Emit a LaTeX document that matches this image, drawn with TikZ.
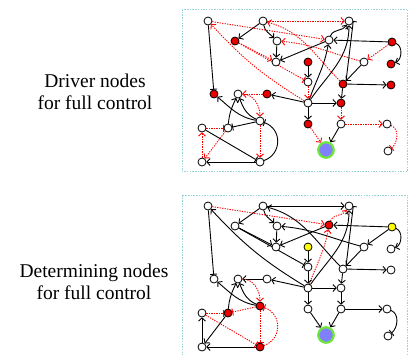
\documentclass[tikz,border=0pt]{standalone}
\usepackage{fontspec}
\setmainfont{Liberation Serif}
\usetikzlibrary{arrows.meta,backgrounds}
\definecolor{framec}{RGB}{150,210,215}
\definecolor{nodered}{RGB}{235,0,0}
\definecolor{nodeyel}{RGB}{255,255,0}
\definecolor{blueN}{RGB}{128,128,255}
\definecolor{greenR}{RGB}{110,230,60}
\newcommand\twoedge[5]{\draw[#4] (#11) to[#3] (#21); \draw[#5] (#12) to[#3] (#22);}
\tikzset{
  nd/.style={circle,draw=black,line width=0.8pt,minimum size=8pt,inner sep=0pt,outer sep=0.3pt},
  bignd/.style={circle,draw=greenR,line width=2.2pt,fill=blueN,minimum size=15.5pt,inner sep=0pt},
  b/.style={draw=black,line width=0.9pt,-{Straight Barb[length=3.2pt,width=7pt]}},
  bb/.style={draw=black,line width=0.9pt,-{Bar[width=7pt]}},
  r/.style={draw=red,line width=0.9pt,dash pattern=on 1.3pt off 1.2pt,-{Straight Barb[length=3.2pt,width=7pt]}},
  rb/.style={draw=red,line width=0.9pt,dash pattern=on 1.3pt off 1.2pt,-{Bar[width=7pt]}},
  frm/.style={draw=framec,line width=0.9pt,dash pattern=on 1.5pt off 1.2pt},
  lbl/.style={align=center,font=\fontsize{19.5}{22.5}\selectfont}
}
\begin{document}
\begin{tikzpicture}[x=1pt,y=1pt]
\useasboundingbox (0,0) rectangle (409,-354);
\begin{scope}
\clip (0,0) rectangle (409,-354);
\draw[frm] (182,-9) rectangle (407.5,-171.5);
\draw[frm] (182,-195) rectangle (407.5,-358);
\end{scope}
\node[lbl] (t1) at (95,-92) {Driver nodes\\for full control};
\node[lbl] (t2) at (94,-282) {Determining nodes\\for full control};
\foreach \n/\x/\y/\ca/\cb in {
 A/208/21/white/white, B/263/21/white/white, C/349/21/white/white,
 D/235/41/nodered/white, E/277/41/white/white, F/329/40/white/nodered,
 G/392/42/nodered/nodeyel, H/276/62/white/white, I/308/62/nodered/nodeyel,
 J/364/62/white/white, K/391/64/nodered/white, L/308/82/white/white,
 M/343/84/nodered/white, N/391/85/nodered/white, O/214/94/nodered/white,
 P/238/94/white/white, Q/267/94/nodered/white, R/308/103/white/white,
 S/341/103/nodered/white, T/260/121/white/nodered, U/228/128/white/nodered,
 V/202/128/white/white, W/308/124/nodered/white, X/341/124/white/white,
 Y/387/124/white/white, AA/388/151/white/white, AB/202/162/white/white,
 AC/260/162/white/nodered}
{
 \node[nd,fill=\ca] (\n1) at (\x,-\y) {};
 \node[nd,fill=\cb] (\n2) at (\x,-\y-185) {};
}
\node[bignd] (Z1) at (326,-150) {};
\node[bignd] (Z2) at (326,-335) {};
\begin{pgfonlayer}{background}
\twoedge{A}{F}{}{r}{r}
\twoedge{B}{C}{}{r}{b}
\twoedge{B}{D}{}{b}{b}
\twoedge{B}{E}{out=-80,in=135}{b}{b}
\twoedge{E}{H}{}{b}{b}
\twoedge{D}{H}{}{r}{b}
\twoedge{D}{L}{}{rb}{bb}
\twoedge{F}{H}{}{b}{b}
\twoedge{G}{F}{}{b}{b}
\twoedge{G}{J}{}{r}{b}
\twoedge{G}{K}{out=-20,in=20}{b}{b}
\twoedge{J}{E}{out=165,in=-5}{r}{b}
\twoedge{M}{B}{out=135,in=-15}{r}{b}
\twoedge{F}{C}{out=70,in=-120}{b}{r}
\twoedge{R}{C}{out=55,in=-90}{b}{b}
\twoedge{R}{F}{out=70,in=-100}{b}{r}
\draw[bb] (M1.north east) -- (C1.east);
\draw[bb] (M2.north east) -- (C2.east);
\twoedge{J}{M}{}{b}{b}
\twoedge{M}{S}{}{b}{b}
\twoedge{M}{N}{}{b}{b}
\twoedge{I}{L}{}{b}{b}
\twoedge{L}{R}{}{r}{b}
\twoedge{R}{S}{}{b}{b}
\twoedge{R}{W}{}{b}{b}
\twoedge{S}{X}{}{r}{b}
\twoedge{W}{Z}{}{r}{b}
\twoedge{X}{Z}{}{b}{b}
\twoedge{X}{Y}{}{r}{b}
\twoedge{Y}{AA}{out=-20,in=40}{rb}{bb}
\twoedge{R}{Q}{}{b}{b}
\twoedge{Q}{P}{}{r}{b}
\twoedge{R}{A}{bend left=8}{r}{b}
\twoedge{A}{O}{}{bb}{bb}
\twoedge{P}{T}{out=0,in=90}{r}{r}
\twoedge{T}{P}{out=155,in=-70}{b}{b}
\twoedge{U}{P}{out=85,in=-115}{b}{b}
\twoedge{T}{O}{out=170,in=-40}{b}{b}
\twoedge{T}{U}{}{bb}{rb}
\twoedge{V}{U}{}{rb}{rb}
\twoedge{U}{AB}{}{r}{b}
\twoedge{AB}{V}{}{r}{b}
\twoedge{AC}{AB}{}{b}{b}
\twoedge{V}{AC}{}{bb}{rb}
\twoedge{T}{AC}{}{r}{rb}
\twoedge{AC}{T}{out=20,in=-20,looseness=1.3}{bb}{rb}
\end{pgfonlayer}
\end{tikzpicture}
\end{document}
